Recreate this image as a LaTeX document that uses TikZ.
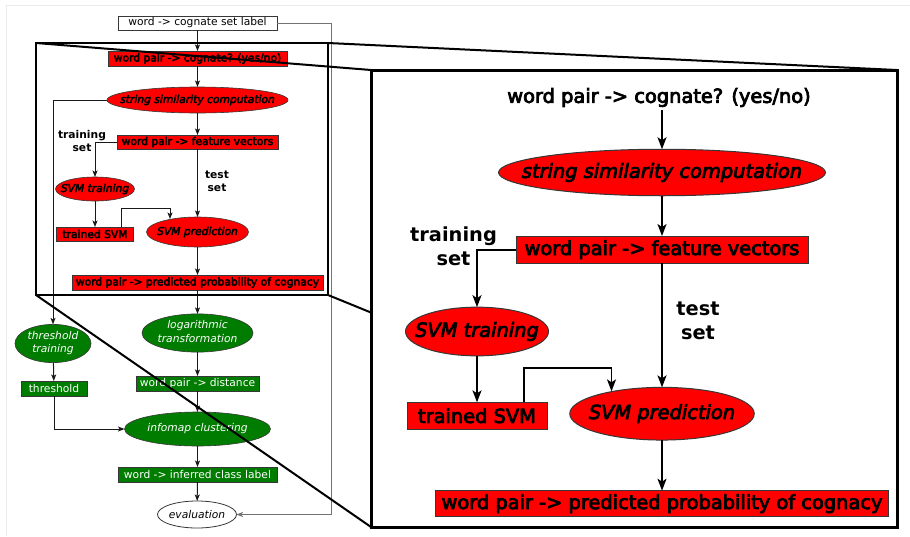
\documentclass[tikz,border=0pt]{standalone}
\usepackage{fontspec}
\setmainfont{DejaVu Sans}
\newfontfamily\heavyfont[FakeBold=4]{DejaVu Sans}
\usetikzlibrary{arrows.meta,shapes.geometric}
\definecolor{boxred}{RGB}{255,0,0}
\definecolor{boxgreen}{RGB}{0,125,0}
\definecolor{edgegray}{RGB}{55,55,55}
% zero-width wrapper so that an ellipse takes its size from minimum width/height only
\newcommand\ovaltext[1]{\makebox[0pt]{#1}}
\newcommand\twolines[2]{\ovaltext{\begin{tabular}{@{}c@{}}#1\\#2\end{tabular}}}

\begin{document}
\begin{tikzpicture}[x=1pt,y=-1pt,
  sfont/.style={font=\fontsize{10.7}{13.5}\selectfont},
  sheavy/.style={font=\heavyfont\fontsize{10.7}{13.5}\selectfont},
  bheavy/.style={font=\heavyfont\fontsize{19.4}{24}\selectfont},
  nodebase/.style={inner sep=0pt, outer sep=0pt},
  redrect/.style={nodebase, rectangle, draw=edgegray, fill=boxred, line width=0.6pt},
  redoval/.style={nodebase, ellipse, draw=edgegray, fill=boxred, line width=0.6pt},
  greenrect/.style={nodebase, rectangle, draw=edgegray, fill=boxgreen, line width=0.6pt, text=white, sfont},
  greenoval/.style={nodebase, ellipse, draw=edgegray, fill=boxgreen, line width=0.6pt, text=white, sfont},
  plainrect/.style={nodebase, rectangle, draw=edgegray, fill=white, line width=0.8pt, sfont},
  plainoval/.style={nodebase, ellipse, draw=edgegray, fill=white, line width=0.8pt, sfont},
  link/.style={draw=black!90, line width=1pt, -{Stealth[length=6.5pt,width=5pt,inset=1.5pt]}},
  feedline/.style={draw=black!55, line width=1pt, -{Stealth[length=6.5pt,width=5pt,inset=1.5pt]}},
  biglink/.style={draw=black, line width=1.8pt, -{Stealth[length=12pt,width=9pt,inset=3pt]}},
  zoomline/.style={draw=black, line width=2pt},
  panel/.style={draw=black, line width=3pt, fill=white},
  lab/.style={nodebase, align=center, font=\bfseries\fontsize{10.7}{13}\selectfont},
  biglab/.style={nodebase, align=center, font=\bfseries\fontsize{19.4}{24}\selectfont},
]
\useasboundingbox (0,0) rectangle (910,536);
\fill[white] (0,0) rectangle (910,536);
\draw[black!8, line width=0.8pt] (6,536) -- (6,5) -- (910,5);

% ---------------- full pipeline ----------------
\node[plainrect, minimum width=159, minimum height=14] (n0) at (197.5,23) {word -> cognate set label};
\node[redrect, sheavy, minimum width=179, minimum height=15] (n1) at (197.5,58.5) {word pair -> cognate? (yes/no)};
\node[redoval, sheavy, minimum width=181, minimum height=26] (n2) at (197.5,100) {\ovaltext{\itshape string similarity computation}};
\node[redrect, sheavy, minimum width=161, minimum height=14] (n3) at (197.5,142) {word pair -> feature vectors};
\node[redoval, sheavy, minimum width=79, minimum height=24] (n4) at (95,189) {\ovaltext{\itshape SVM training}};
\node[redrect, sheavy, minimum width=77, minimum height=14] (n5) at (95,234) {trained SVM};
\node[redoval, sheavy, minimum width=102, minimum height=30] (n6) at (197.5,232) {\ovaltext{\itshape SVM prediction}};
\node[redrect, sheavy, minimum width=251, minimum height=15] (n7) at (197.5,282.5) {word pair -> predicted probability of cognacy};
\node[greenoval, minimum width=111, minimum height=36] (n8) at (197.5,333) {\itshape\twolines{logarithmic}{transformation}};
\node[greenoval, minimum width=76, minimum height=31] (n9) at (53,343.5) {\itshape\twolines{threshold}{training}};
\node[greenrect, minimum width=66, minimum height=15] (n10) at (54,388.5) {threshold};
\node[greenrect, minimum width=123, minimum height=15] (n11) at (197.5,383.5) {word pair -> distance};
\node[greenoval, minimum width=146, minimum height=34] (n12) at (197.5,429) {\ovaltext{\itshape infomap clustering}};
\node[greenrect, minimum width=159, minimum height=15] (n13) at (197.5,474.5) {word -> inferred class label};
\node[plainoval, minimum width=79, minimum height=27] (n14) at (197,514.5) {\ovaltext{\itshape evaluation}};

\node[lab] (l1) at (82,141.5) {training\\set};
\node[lab] (l2) at (217,181.5) {test\\set};

\coordinate (k1) at (121,208);
\coordinate (k2) at (170,208);
\coordinate (k0) at (331,23);

\draw[link] (n0) -- (n1);
\draw[link] (n1) -- (n2);
\draw[link] (n2) -- (n3);
\draw[link] (n3.west) -| (n4.north);
\draw[link] (n3) -- (n6);
\draw[link] (n4) -- (n5);
\draw[link, shorten >=-2pt] (n5.north -| k1) -- (k1) -- (k2) -- (k2 |- n6.north);
\draw[link] (n6) -- (n7);
\draw[link] (n7) -- (n8);
\draw[link] (n2.west) -| (n9.north);
\draw[link] (n9) -- (n10);
\draw[link] (n8) -- (n11);
\draw[link] (n11) -- (n12);
\draw[link] (n10.south) |- (n12.west);
\draw[link] (n12) -- (n13);
\draw[link] (n13) -- (n14);
\draw[feedline] (n0.east) -- (k0) |- (n14.east);

% ---------------- magnifier ----------------
\coordinate (za) at (36,43);
\coordinate (zb) at (328,43);
\coordinate (zc) at (328,295);
\coordinate (zd) at (36,295);
\coordinate (pa) at (371,70);
\coordinate (pb) at (897,70);
\coordinate (pc) at (897,527);
\coordinate (pd) at (371,527);
\draw[zoomline] (za) rectangle (zc);
\draw[zoomline] (za) -- (pa);
\draw[zoomline] (zb) -- (pb);
\draw[zoomline] (zd) -- (pd);
\draw[zoomline] (zc) -- (pc);
\draw[panel] (pa) rectangle (pc);

% ---------------- enlarged part ----------------
\node[nodebase, bheavy] (r1) at (659,97.5) {word pair -> cognate? (yes/no)};
\node[redoval, bheavy, line width=1pt, minimum width=327, minimum height=46.5] (r2) at (662,172.5) {\ovaltext{\itshape string similarity computation}};
\node[redrect, bheavy, line width=1pt, minimum width=292, minimum height=27.3] (r3) at (662,249.7) {word pair -> feature vectors};
\node[redoval, bheavy, line width=1pt, minimum width=143, minimum height=48.7] (r4) at (477,331.5) {\ovaltext{\itshape SVM training}};
\node[redrect, bheavy, line width=1pt, minimum width=140, minimum height=26.7] (r5) at (477,415.7) {trained SVM};
\node[redoval, bheavy, line width=1pt, minimum width=184.5, minimum height=52.7] (r6) at (662,413.7) {\ovaltext{\itshape SVM prediction}};
\node[redrect, bheavy, line width=1pt, minimum width=453.5, minimum height=26] (r7) at (662,503.7) {word pair -> predicted probability of cognacy};

\node[biglab] (rl1) at (453.5,246.3) {training\\set};
\node[biglab] (rl2) at (698,321) {test\\set};

\coordinate (k3) at (524,367.7);
\coordinate (k4) at (611.5,367.7);

\draw[biglink, shorten <=3pt] (r1.south -| r2.north) -- (r2.north);
\draw[biglink] (r2) -- (r3);
\draw[biglink] (r3.west) -| (r4.north);
\draw[biglink] (r3) -- (r6);
\draw[biglink] (r4) -- (r5);
\draw[biglink, shorten >=-4pt] (r5.north -| k3) -- (k3) -- (k4) -- (k4 |- r6.north);
\draw[biglink] (r6) -- (r7);
\end{tikzpicture}
\end{document}
